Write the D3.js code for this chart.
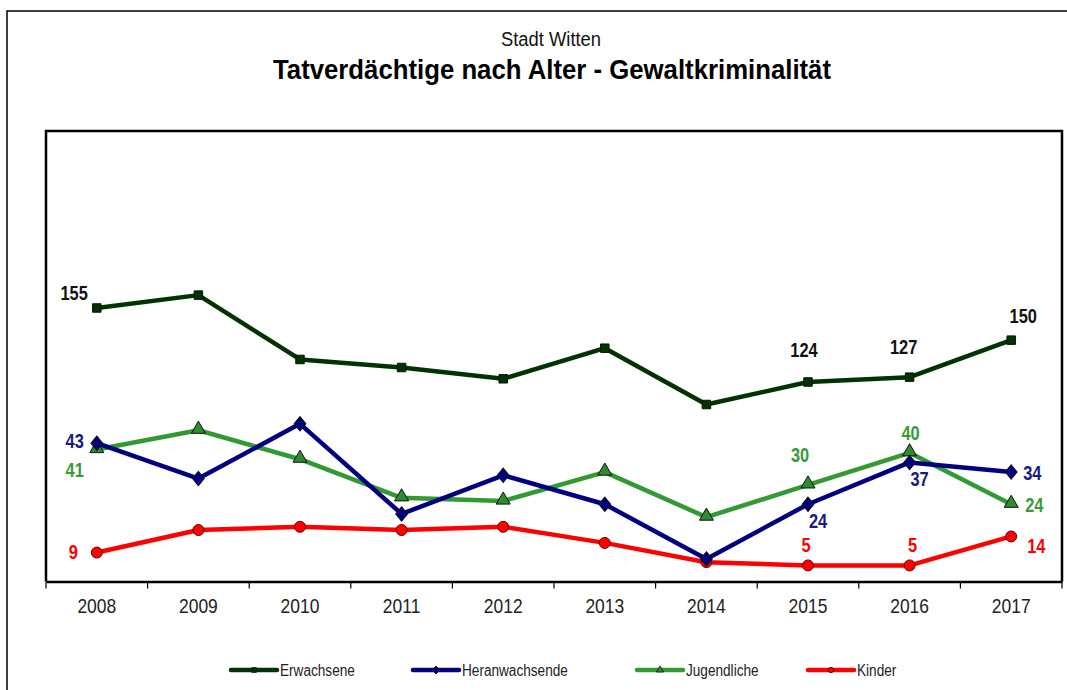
<!DOCTYPE html>
<html>
<head>
<meta charset="utf-8">
<script src="https://cdn.jsdelivr.net/npm/d3@7"></script>
<style>
  body { margin: 0; background: #fff; }
  svg { display: block; }
  text { font-family: "Liberation Sans Narrow", "Arial Narrow", "Liberation Sans", Arial, sans-serif; }
</style>
</head>
<body>
<div id="chart"></div>
<script>
// data
var years = ["2008","2009","2010","2011","2012","2013","2014","2015","2016","2017"];
var erwachsene      = [170, 178, 138, 133, 126, 145, 110, 124, 127, 150];
var heranwachsende  = [43, 32, 49, 21, 33, 24, 7, 24, 37, 34];
var jugendliche     = [41, 47, 38, 26, 25, 34, 20, 30, 40, 24];
var kinder          = [9, 16, 17, 16, 17, 12, 6, 5, 5, 14];
// printed data labels (2008 label in source says 155)
var erwLabels  = ["155", null, null, null, null, null, null, "124", "127", "150"];
var herLabels  = ["43", null, null, null, null, null, null, "24", "37", "34"];
var jugLabels  = ["41", null, null, null, null, null, null, "30", "40", "24"];
var kinLabels  = ["9", null, null, null, null, null, null, "5", "5", "14"];
var yLeftMax = 140, yRightMax = 280;

var W = 1067, H = 690;
var pLeft = 46, pRight = 1062, pTop = 131, pBottom = 581.5;

// squeeze text horizontally so it looks like Arial Narrow
function narrow(sel, k) {
  sel.each(function() {
    var len = this.getComputedTextLength();
    d3.select(this).attr("textLength", len * k).attr("lengthAdjust", "spacingAndGlyphs");
  });
}

var svg = d3.select("#chart").append("svg")
    .attr("width", W)
    .attr("height", H);

// outer frame (runs off the right/bottom edges)
svg.append("rect")
    .attr("x", 7).attr("y", 11)
    .attr("width", W + 20).attr("height", H + 20)
    .attr("fill", "#fff")
    .attr("stroke", "#000")
    .attr("stroke-width", 1.5);

// titles
svg.append("text")
    .attr("x", 551).attr("y", 46)
    .attr("text-anchor", "middle")
    .style("font-size", "20px")
    .attr("fill", "#111")
    .text("Stadt Witten")
    .attr("textLength", 100)
    .attr("lengthAdjust", "spacingAndGlyphs");

svg.append("text")
    .attr("x", 552).attr("y", 79)
    .attr("text-anchor", "middle")
    .style("font-size", "27px")
    .style("font-weight", "bold")
    .text("Tatverdächtige nach Alter - Gewaltkriminalität")
    .attr("textLength", 558)
    .attr("lengthAdjust", "spacingAndGlyphs");

var x = d3.scaleBand()
    .domain(years)
    .range([pLeft, pRight])
    .padding(0);

var yL = d3.scaleLinear().domain([0, yLeftMax]).range([pBottom, pTop]);
var yR = d3.scaleLinear().domain([0, yRightMax]).range([pBottom, pTop]);

function cx(d, i) { return x(years[i]) + x.bandwidth() / 2; }

// plot frame
svg.append("path")
    .attr("d", "M" + pLeft + "," + pBottom + "V" + pTop + "H" + pRight + "V" + pBottom)
    .attr("fill", "none")
    .attr("stroke", "#000")
    .attr("stroke-width", 2.5);

// x axis: labels centred on categories, ticks on band edges
var xAxis = svg.append("g")
    .attr("transform", "translate(0," + pBottom + ")")
    .call(d3.axisBottom(x).tickSize(0).tickPadding(17));
xAxis.select(".domain").attr("stroke", "#000").attr("stroke-width", 2.5);
xAxis.selectAll("text")
    .style("font-family", "'Liberation Sans Narrow', 'Arial Narrow', 'Liberation Sans', sans-serif")
    .style("font-size", "21px")
    .attr("fill", "#222")
    .call(narrow, 0.83);

var edges = d3.range(years.length + 1).map(function(k) { return pLeft + k * x.step(); });
svg.append("g").selectAll("line")
    .data(edges)
    .enter().append("line")
    .attr("x1", function(d) { return d; })
    .attr("x2", function(d) { return d; })
    .attr("y1", pBottom)
    .attr("y2", pBottom + 7)
    .attr("stroke", "#000")
    .attr("stroke-width", 1.2);

var series = [
  { name: "Erwachsene", values: erwachsene, labels: erwLabels, y: yR,
    color: "#003300", fill: "#003300", labelColor: "#111", marker: "square",
    pos: { 0: ["end", -9, -15], 7: ["middle", -4, -32], 8: ["middle", -6, -30], 9: ["middle", 12, -24] } },
  { name: "Heranwachsende", values: heranwachsende, labels: herLabels, y: yL,
    color: "#000080", fill: "#000080", labelColor: "#1a1a80", marker: "diamond",
    pos: { 0: ["end", -13, -2], 7: ["middle", 10, 17], 8: ["middle", 10, 17], 9: ["start", 12, 1] } },
  { name: "Jugendliche", values: jugendliche, labels: jugLabels, y: yL,
    color: "#339933", fill: "#2e8b2e", labelColor: "#3a9a3a", marker: "triangle",
    pos: { 0: ["end", -13, 20], 7: ["middle", -8, -30], 8: ["middle", 1, -20], 9: ["start", 14, 1] } },
  { name: "Kinder", values: kinder, labels: kinLabels, y: yL,
    color: "#ff0000", fill: "#ff0000", labelColor: "#ff0000", marker: "circle",
    pos: { 0: ["end", -19, -1], 7: ["middle", -2, -20], 8: ["middle", 3, -20], 9: ["start", 16, 10] } }
];

var symbolTypes = {
  square: d3.symbolSquare, diamond: d3.symbolDiamond2,
  triangle: d3.symbolTriangle, circle: d3.symbolCircle
};
var symbolSizes = { square: 72, diamond: 110, triangle: 85, circle: 95 };

// draw lines + markers, bottom series first
series.slice().reverse().forEach(function(s) {
  var line = d3.line()
      .x(function(d, i) { return cx(d, i); })
      .y(function(d) { return s.y(d); });
  var g = svg.append("g");
  g.append("path")
      .datum(s.values)
      .attr("d", line)
      .attr("fill", "none")
      .attr("stroke", s.color)
      .attr("stroke-width", 4.5)
      .attr("stroke-linejoin", "round");
  g.selectAll(".pt")
      .data(s.values)
      .enter().append("path")
      .attr("class", "pt")
      .attr("transform", function(d, i) {
        var dy = s.marker === "triangle" ? -1 : 0;
        return "translate(" + cx(d, i) + "," + (s.y(d) + dy) + ")" +
          (s.marker === "diamond" ? " scale(0.9,1.1)" : "");
      })
      .attr("d", d3.symbol().type(symbolTypes[s.marker]).size(symbolSizes[s.marker]))
      .attr("fill", s.fill)
      .attr("stroke", s.marker === "circle" ? "#600" : "#111")
      .attr("stroke-width", 1);
});

// data labels
series.forEach(function(s) {
  s.values.forEach(function(v, i) {
    if (!s.labels[i]) return;
    var p = s.pos[i];
    svg.append("text")
        .attr("x", cx(v, i) + p[1])
        .attr("y", s.y(v) + p[2] + 7)
        .attr("text-anchor", p[0])
        .style("font-size", "20px")
        .style("font-weight", "bold")
        .attr("fill", s.labelColor)
        .text(s.labels[i])
        .call(narrow, 0.82);
  });
});

// legend
var legendX = [231, 413, 637, 808];
var legend = svg.append("g");
series.forEach(function(s, i) {
  var lx = legendX[i], ly = 670;
  legend.append("line")
      .attr("x1", lx).attr("x2", lx + 46)
      .attr("y1", ly).attr("y2", ly)
      .attr("stroke", s.color)
      .attr("stroke-width", 4.5)
      .attr("stroke-linecap", "round");
  legend.append("path")
      .attr("transform", "translate(" + (lx + 23) + "," + ly + ")")
      .attr("d", d3.symbol().type(symbolTypes[s.marker]).size(s.marker === "diamond" ? 40 : 22))
      .attr("fill", s.fill)
      .attr("stroke", "#111")
      .attr("stroke-width", 0.8);
  legend.append("text")
      .attr("x", lx + 49)
      .attr("y", ly + 6)
      .style("font-size", "16px")
      .attr("fill", "#222")
      .text(s.name)
      .call(narrow, 0.85);
});
</script>
</body>
</html>
